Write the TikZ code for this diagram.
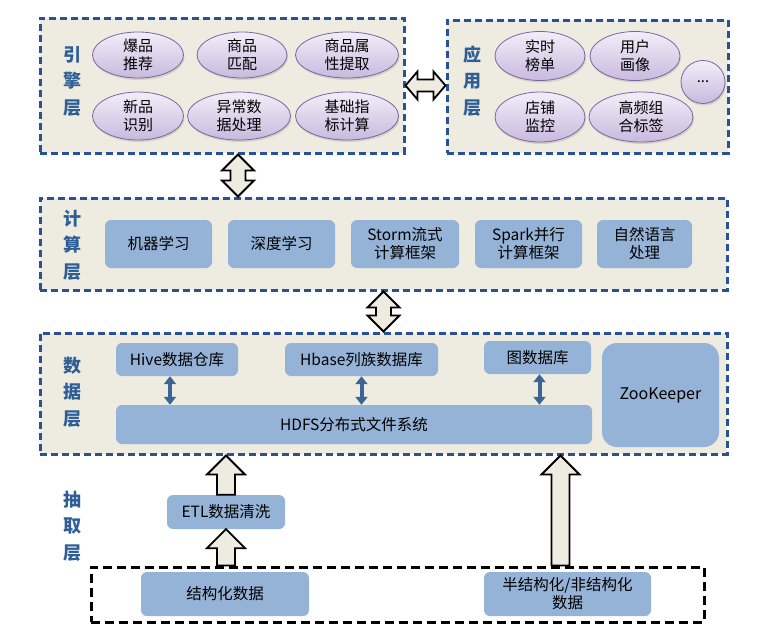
\documentclass[tikz,border=0pt]{standalone}
\usepackage{fontspec}
\setmainfont{Noto Sans CJK SC}
\usetikzlibrary{arrows.meta,shapes.geometric,shadows,calc}
\definecolor{layerfill}{RGB}{238,236,225}
\definecolor{layerline}{RGB}{40,82,148}
\definecolor{labelblue}{RGB}{47,94,150}
\definecolor{boxfill}{RGB}{149,179,215}
\definecolor{ovaltop}{RGB}{242,238,248}
\definecolor{ovalbot}{RGB}{200,186,222}
\definecolor{ovalline}{RGB}{128,100,162}
\definecolor{linkblue}{RGB}{59,101,150}

\begin{document}
\begin{tikzpicture}[x=1pt,y=-1pt,
	layer/.style 2 args={draw=layerline, line width=3pt, dash pattern=on 7pt off 4pt,
		fill=layerfill, inner sep=0pt, minimum width=#1, minimum height=#2},
	srcframe/.style 2 args={draw=black, line width=3pt, dash pattern=on 9pt off 5pt,
		inner sep=0pt, minimum width=#1, minimum height=#2},
	lbl/.style={text=labelblue, align=center, font=\fontsize{18}{26.5}\selectfont\bfseries},
	oval/.style 2 args={ellipse, draw=ovalline, line width=0.8pt, top color=ovaltop, bottom color=ovalbot,
		drop shadow={opacity=0.25, shadow xshift=1pt, shadow yshift=-2pt},
		inner sep=0pt, minimum width=#1, minimum height=#2, align=center,
		font=\fontsize{15}{18}\selectfont},
	blk/.style 2 args={fill=boxfill, rounded corners=6pt, inner sep=0pt, align=center,
		minimum width=#1, minimum height=#2, font=\fontsize{15.5}{18}\selectfont},
	link/.style={draw=linkblue, line width=4pt,
		{Triangle[width=12pt,length=8pt]}-{Triangle[width=12pt,length=8pt]}},
	dblv/.style={draw=black, line width=1.8pt, fill=layerfill, line join=miter,
		to path={let \p1=(\tikztostart), \p2=(\tikztotarget) in
			(\x1,\y1) -- (\x1+16pt,\y1+16pt) -- (\x1+7.5pt,\y1+16pt) -- (\x1+7.5pt,\y2-16pt)
			-- (\x1+16pt,\y2-16pt) -- (\x1,\y2) -- (\x1-16pt,\y2-16pt) -- (\x1-7.5pt,\y2-16pt)
			-- (\x1-7.5pt,\y1+16pt) -- (\x1-16pt,\y1+16pt) -- cycle}},
	dblh/.style={draw=black, line width=1.8pt, fill=layerfill, line join=miter,
		to path={let \p1=(\tikztostart), \p2=(\tikztotarget) in
			(\x1,\y1) -- (\x1+12pt,\y1+14pt) -- (\x1+12pt,\y1+6pt) -- (\x2-12pt,\y1+6pt)
			-- (\x2-12pt,\y1+14pt) -- (\x2,\y1) -- (\x2-12pt,\y1-14pt) -- (\x2-12pt,\y1-6pt)
			-- (\x1+12pt,\y1-6pt) -- (\x1+12pt,\y1-14pt) -- cycle}},
	upblk/.style={draw=black, line width=1.8pt, fill=layerfill, line join=miter,
		to path={let \p1=(\tikztostart), \p2=(\tikztotarget) in
			(\x1-9pt,\y1) -- (\x1-9pt,\y2-19pt) -- (\x1-19pt,\y2-19pt) -- (\x1,\y2)
			-- (\x1+19pt,\y2-19pt) -- (\x1+9pt,\y2-19pt) -- (\x1+9pt,\y1) -- cycle}}]
	\useasboundingbox (0,0) rectangle (769,632);

	% layers
	\node[layer={364pt}{135pt}] (engine) at (222,85.5) {};
	\node[layer={281pt}{133pt}] (app) at (587.5,86.5) {};
	\node[layer={687pt}{92pt}] (compute) at (383.5,244) {};
	\node[layer={687pt}{121pt}] (data) at (383.5,393.5) {};
	\node[srcframe={613pt}{55pt}] (src) at (397.5,594.5) {};

	\node[lbl] (englbl) at (72,81) {引\\擎\\层};
	\node[lbl] (applbl) at (472,81) {应\\用\\层};
	\node[lbl] (cmplbl) at (72,245) {计\\算\\层};
	\node[lbl] (datlbl) at (72,392) {数\\据\\层};
	\node[lbl] (extlbl) at (72,526) {抽\\取\\层};

	% engine layer
	\node[oval={91pt}{46pt}] (e1) at (138,55) {爆品\\推荐};
	\node[oval={90pt}{46pt}] (e2) at (242,55) {商品\\匹配};
	\node[oval={103pt}{46pt}] (e3) at (347,55) {商品属\\性提取};
	\node[oval={91pt}{48pt}] (e4) at (138,116) {新品\\识别};
	\node[oval={103pt}{48pt}] (e5) at (239,116) {异常数\\据处理};
	\node[oval={103pt}{48pt}] (e6) at (347,116) {基础指\\标计算};

	% application layer
	\node[oval={90pt}{49pt}] (a1) at (540,56) {实时\\榜单};
	\node[oval={90pt}{49pt}] (a2) at (635,56) {用户\\画像};
	\node[oval={44pt}{43pt}] (a3) at (703,82) {...};
	\node[oval={90pt}{50pt}] (a4) at (540,117) {店铺\\监控};
	\node[oval={104pt}{50pt}] (a5) at (641,117) {高频组\\合标签};

	% compute layer
	\node[blk={107pt}{48pt}] (c1) at (158.5,244) {机器学习};
	\node[blk={107pt}{48pt}] (c2) at (281.5,244) {深度学习};
	\node[blk={108pt}{48pt}] (c3) at (405,244) {Storm流式\\计算框架};
	\node[blk={107pt}{48pt}] (c4) at (528.5,244) {Spark并行\\计算框架};
	\node[blk={95pt}{48pt}] (c5) at (644.5,244) {自然语言\\处理};

	% data layer
	\node[blk={122pt}{33pt}] (hive) at (177,359.5) {Hive数据仓库};
	\node[blk={153pt}{33pt}] (hbase) at (361.5,359.5) {Hbase列族数据库};
	\node[blk={107pt}{33pt}] (graph) at (537.5,357.5) {图数据库};
	\node[blk={117pt}{104pt}, rounded corners=15pt, font=\fontsize{16}{18}\selectfont] (zk) at (660.5,395) {ZooKeeper};
	\node[blk={476pt}{39pt}] (hdfs) at (354,424.5) {HDFS分布式文件系统};

	% extraction layer
	\node[blk={118pt}{34pt}] (etl) at (226,512) {ETL数据清洗};
	\node[blk={168pt}{44pt}] (struct) at (225,594) {结构化数据};
	\node[blk={167pt}{44pt}] (semi) at (567.5,594) {半结构化/非结构化\\数据};

	% connectors
	\draw[dblv] ([xshift=16pt]engine.south |- compute.north) to ([xshift=16pt]engine.south);
	\draw[dblv] (data.north) to (compute.south);
	\draw[dblh] (engine.east) to (app.west);
	\draw[link] ([xshift=-7pt]hive.south) -- ([xshift=-7pt]hive.south |- hdfs.north);
	\draw[link] (hbase.south) -- (hbase.south |- hdfs.north);
	\draw[link] ([xshift=2pt]graph.south) -- ([xshift=2pt]graph.south |- hdfs.north);
	\draw[upblk] (etl.south |- src.north) to (etl.south);
	\draw[upblk] (etl.north) to (etl.north |- data.south);
	\draw[upblk] ([xshift=-7pt]semi.north |- src.north) to ([xshift=-7pt]semi.north |- data.south);
\end{tikzpicture}
\end{document}
